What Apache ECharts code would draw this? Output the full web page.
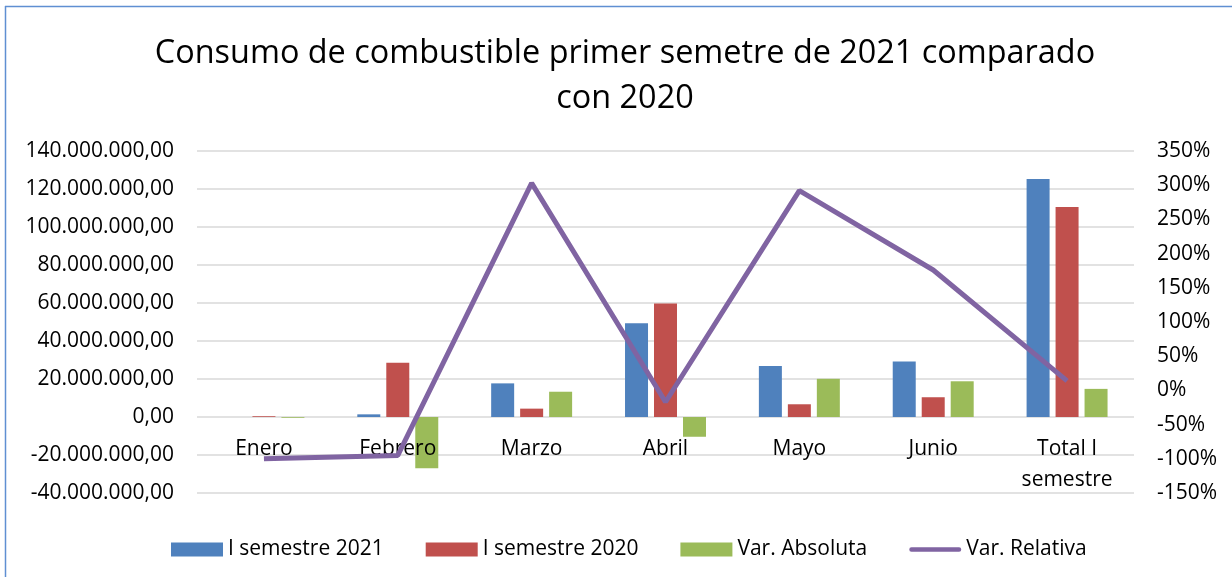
<!DOCTYPE html>
<html>
<head>
<meta charset="utf-8">
<script src="https://cdn.jsdelivr.net/npm/echarts@6/dist/echarts.min.js"></script>
<style>
html, body { margin: 0; padding: 0; background: #fff; }
#main { width: 1232px; height: 577px; }
</style>
</head>
<body>
<div id="main"></div>
<script>
var categories = ['Enero', 'Febrero', 'Marzo', 'Abril', 'Mayo', 'Junio', 'Total I\nsemestre'];
var sem2021 = [0, 1400000, 17700000, 49300000, 26800000, 29200000, 125300000];
var sem2020 = [400000, 28600000, 4400000, 59700000, 6700000, 10400000, 110500000];
var varAbsoluta = [-400000, -27000000, 13300000, -10400000, 20100000, 18800000, 14800000];
var varRelativa = [-100, -95, 303, -17, 292, 176, 14];

var font = '"Open Sans", sans-serif';

function fmtNum(v) {
	var neg = v < 0;
	var s = String(Math.abs(Math.round(v)));
	s = s.replace(/\B(?=(\d{3})+(?!\d))/g, '.');
	return (neg ? '-' : '') + s + ',00';
}

var chart = echarts.init(document.getElementById('main'));
var option = {
	backgroundColor: '#fff',
	textStyle: { fontFamily: font, color: '#000' },
	title: {
		text: 'Consumo de combustible primer semetre de 2021 comparado\ncon 2020',
		left: 620,
		top: 26,
		textAlign: 'center',
		textStyle: {
			fontFamily: font,
			fontSize: 32.4,
			fontWeight: 'normal',
			color: '#000',
			lineHeight: 45
		}
	},
	graphic: [
		{ type: 'line', shape: { x1: 5, y1: 6.5, x2: 1232, y2: 6.5 }, style: { stroke: '#5f8fd2', lineWidth: 1.5 } },
		{ type: 'line', shape: { x1: 5.5, y1: 6, x2: 5.5, y2: 577 }, style: { stroke: '#5f8fd2', lineWidth: 1.5 } }
	],
	legend: {
		top: 534,
		left: 166,
		itemWidth: 52,
		itemHeight: 14,
		itemGap: 42,
		textStyle: { fontFamily: font, fontSize: 21, color: '#000' },
		data: [
			{ name: 'I semestre 2021', icon: 'rect' },
			{ name: 'I semestre 2020', icon: 'rect' },
			{ name: 'Var. Absoluta', icon: 'rect' },
			{ name: 'Var. Relativa', icon: 'path://M2,0 L56,0 A2,2 0 0 1 56,5 L2,5 A2,2 0 0 1 2,0 Z' }
		]
	},
	grid: { left: 197, right: 98, top: 151, bottom: 84 },
	xAxis: {
		type: 'category',
		data: categories,
		z: 3,
		axisLine: { show: false, onZero: false },
		axisTick: { show: false },
		axisLabel: { fontSize: 21, color: '#000', margin: -59, lineHeight: 31, interval: 0 }
	},
	yAxis: [{
		type: 'value',
		min: -40000000,
		max: 140000000,
		interval: 20000000,
		axisLine: { show: false },
		axisTick: { show: false },
		splitLine: { lineStyle: { color: '#d9d9d9', width: 1.5 } },
		axisLabel: { fontSize: 21, color: '#000', margin: 23, formatter: fmtNum }
	}, {
		type: 'value',
		min: -150,
		max: 350,
		interval: 50,
		axisLine: { show: false },
		axisTick: { show: false },
		splitLine: { show: false },
		axisLabel: { fontSize: 21, color: '#000', margin: 23, formatter: '{value}%' }
	}],
	series: [{
		name: 'I semestre 2021',
		type: 'bar',
		data: sem2021,
		barWidth: 23,
		barGap: '26%',
		itemStyle: { color: '#4f81bd' }
	}, {
		name: 'I semestre 2020',
		type: 'bar',
		data: sem2020,
		barWidth: 23,
		barGap: '26%',
		itemStyle: { color: '#c0504d' }
	}, {
		name: 'Var. Absoluta',
		type: 'bar',
		data: varAbsoluta,
		barWidth: 23,
		barGap: '26%',
		itemStyle: { color: '#9bbb59' }
	}, {
		name: 'Var. Relativa',
		type: 'line',
		yAxisIndex: 1,
		data: varRelativa,
		symbol: 'none',
		z: 5,
		lineStyle: { color: '#8064a2', width: 5 },
		itemStyle: { color: '#8064a2' }
	}]
};
chart.setOption(option);
window.addEventListener('resize', function() {
	chart.resize();
});
</script>
</body>
</html>
